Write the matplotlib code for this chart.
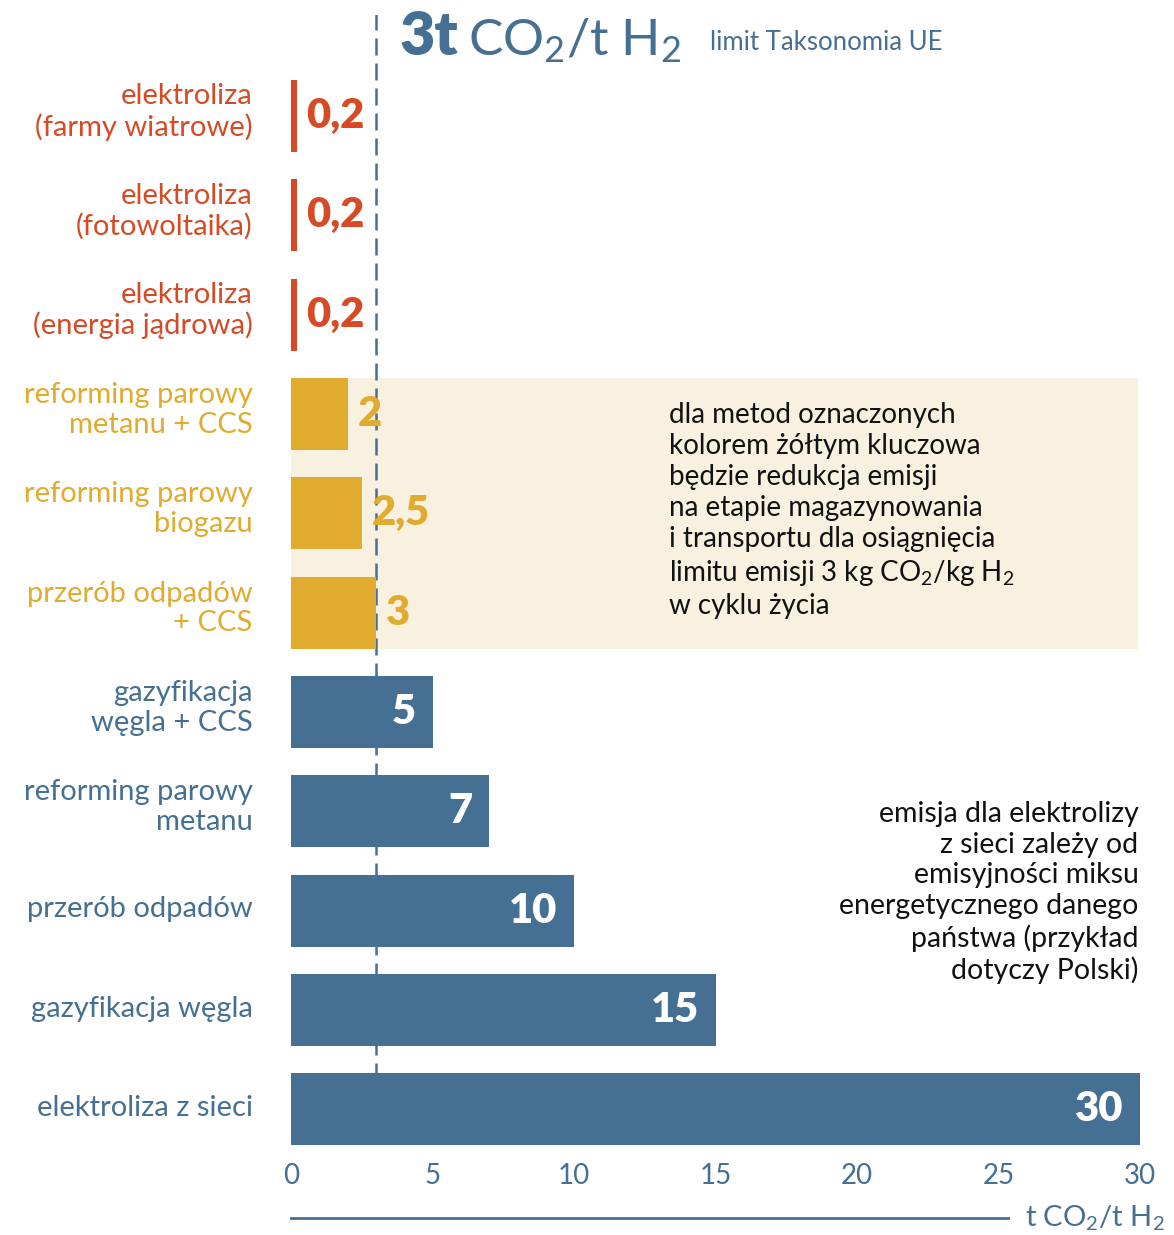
import matplotlib
matplotlib.use("Agg")
import matplotlib.pyplot as plt
from matplotlib.lines import Line2D

plt.rcParams['font.family'] = ['Lato', 'DejaVu Sans']
plt.rcParams['mathtext.fontset'] = 'custom'
plt.rcParams['mathtext.rm'] = 'Lato'
plt.rcParams['mathtext.default'] = 'regular'

# data, top to bottom
categories = ['elektroliza\n(farmy wiatrowe)', 'elektroliza\n(fotowoltaika)',
              'elektroliza\n(energia jądrowa)', 'reforming parowy\nmetanu + CCS',
              'reforming parowy\nbiogazu', 'przerób odpadów\n+ CCS',
              'gazyfikacja\nwęgla + CCS', 'reforming parowy\nmetanu',
              'przerób odpadów', 'gazyfikacja węgla', 'elektroliza z sieci']
values = [0.2, 0.2, 0.2, 2, 2.5, 3, 5, 7, 10, 15, 30]
value_labels = ['0,2', '0,2', '0,2', '2', '2,5', '3', '5', '7', '10', '15', '30']
groups = ['red'] * 3 + ['yellow'] * 3 + ['blue'] * 5
limit = 3
xticks = [0, 5, 10, 15, 20, 25, 30]

RED = '#D64A25'
YELLOW = '#E0AB2E'
BLUE = '#456F93'
CREAM = '#F9F1E0'
colors = {'red': RED, 'yellow': YELLOW, 'blue': BLUE}

fig = plt.figure(figsize=(11.74, 12.35), dpi=100)
ax = fig.add_axes([291 / 1174, 85 / 1235, 849 / 1174, 1135 / 1235])

ypos = list(range(len(categories)))
bar_colors = [colors[g] for g in groups]
ax.barh(ypos, values, height=0.725, color=bar_colors, zorder=3)

# cream background behind the yellow group
ax.axhspan(3 - 0.3625, 5 + 0.3625, xmin=0, xmax=29.92 / 30, color=CREAM, zorder=0, lw=0)

# EU taxonomy limit line
ax.plot([limit, limit], [-1.04, 9.64], color=BLUE, lw=1.8, dashes=(6.8, 3.2), zorder=2)

for i, (v, lab, g) in enumerate(zip(values, value_labels, groups)):
    if g == 'blue':
        ax.annotate(lab, (v, i), xytext=(-12, 0), textcoords='offset points',
                    ha='right', va='center', color='white', fontsize=30,
                    fontweight='heavy', zorder=4)
    else:
        ax.annotate(lab, (v, i), xytext=(7, 0), textcoords='offset points',
                    ha='left', va='center', color=colors[g], fontsize=30,
                    fontweight='heavy', zorder=4)

# category labels, left of the bars
for i, (cat, g) in enumerate(zip(categories, groups)):
    dy = 3 if '\n' in cat else 1
    ax.annotate(cat, (0, i), xycoords=('axes fraction', 'data'),
                xytext=(-27.5, dy), textcoords='offset points',
                ha='right', va='center', multialignment='right',
                fontsize=21, linespacing=1.18, color=colors[g])

ax.set_xlim(0, 30)
ax.set_ylim(10.41, -1.017)
ax.set_yticks([])
ax.set_xticks(xticks)
ax.set_xticklabels([str(x) for x in xticks], fontsize=20, color=BLUE)
ax.tick_params(axis='x', length=0, pad=9)
for s in ax.spines.values():
    s.set_visible(False)

# title / limit label
fig.text(400 / 1174, 1 - 55 / 1235, '3t', fontsize=44, fontweight='heavy',
         color=BLUE, va='baseline')
fig.text(468 / 1174, 1 - 55 / 1235, r'CO$_2$/t H$_2$', fontsize=37,
         color=BLUE, va='baseline')
fig.text(710 / 1174, 1 - 50 / 1235, 'limit Taksonomia UE', fontsize=18.5,
         color=BLUE, va='baseline')

# annotations
ax.text((669 - 291) / 849 * 30, 3.97,
        'dla metod oznaczonych\nkolorem żółtym kluczowa\nbędzie redukcja emisji\n'
        'na etapie magazynowania\ni transportu dla osiągnięcia\n'
        r'limitu emisji 3 kg CO$_2$/kg H$_2$' '\nw cyklu życia',
        fontsize=20, color='#111111', ha='left', va='center', linespacing=1.24,
        zorder=4)
ax.text(29.95, 7.82,
        'emisja dla elektrolizy\nz sieci zależy od\nemisyjności miksu\n'
        'energetycznego danego\npaństwa (przykład\ndotyczy Polski)',
        fontsize=20.5, color='#111111', ha='right', va='center', linespacing=1.22,
        multialignment='right', zorder=4)

# axis unit line at bottom
fig.add_artist(Line2D([291 / 1174, 1008 / 1174], [17 / 1235, 17 / 1235],
                      color=BLUE, lw=2))
fig.text(1025 / 1174, 17 / 1235, r't CO$_2$/t H$_2$', fontsize=21, color=BLUE,
         va='center', ha='left')

fig.savefig('out.png', dpi=100)
